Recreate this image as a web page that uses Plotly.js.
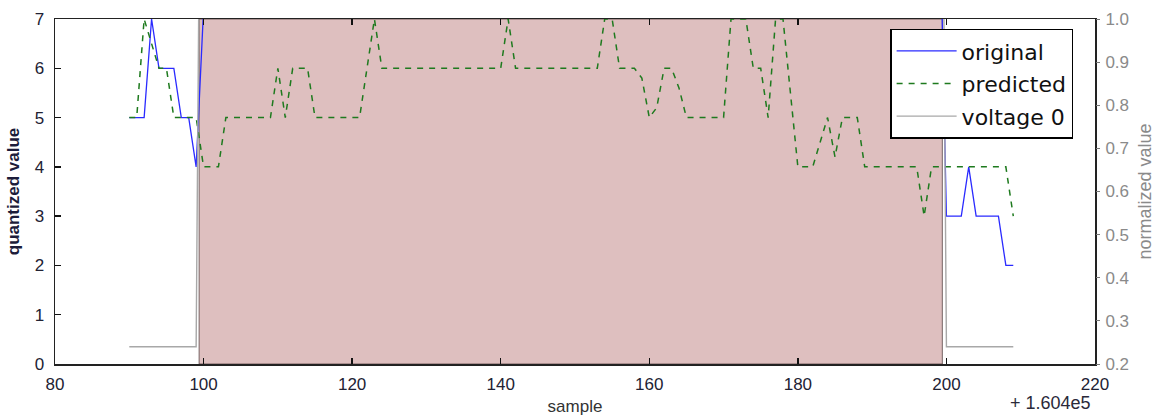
<!DOCTYPE html>
<html>
<head>
<meta charset="utf-8">
<script src="https://cdn.plot.ly/plotly-3.0.1.min.js"></script>
<style>
  html, body { margin: 0; padding: 0; background: #ffffff; }
  #chart { width: 1158px; height: 418px; }
</style>
</head>
<body>
<div id="chart"></div>
<script>
// ---- data (sample index shown with offset +1.604e5) ----
var sampleOffsetText = "+ 1.604e5";

var predictedSamples = [
  90, 91, 92, 93, 94, 95, 96, 97, 98, 99,
  100, 101, 102, 103, 104, 105, 106, 107, 108, 109,
  110, 111, 112, 113, 114, 115, 116, 117, 118, 119,
  120, 121, 122, 123, 124, 125, 126, 127, 128, 129,
  130, 131, 132, 133, 134, 135, 136, 137, 138, 139,
  140, 141, 142, 143, 144, 145, 146, 147, 148, 149,
  150, 151, 152, 153, 154, 155, 156, 157, 158, 159,
  160, 161, 162, 163, 164, 165, 166, 167, 168, 169,
  170, 171, 172, 173, 174, 175, 176, 177, 178, 179,
  180, 181, 182, 183, 184, 185, 186, 187, 188, 189,
  190, 191, 192, 193, 194, 195, 196, 197, 198, 199,
  200, 201, 202, 203, 204, 205, 206, 207, 208, 209
];
var predictedValues = [
  5, 5, 7, 6.5, 6, 6, 5, 5, 5, 5,
  4, 4, 4, 5, 5, 5, 5, 5, 5, 5,
  6, 5, 6, 6, 6, 5, 5, 5, 5, 5,
  5, 5, 6, 7, 6, 6, 6, 6, 6, 6,
  6, 6, 6, 6, 6, 6, 6, 6, 6, 6,
  6, 7, 6, 6, 6, 6, 6, 6, 6, 6,
  6, 6, 6, 6, 7, 7, 6, 6, 6, 5.8,
  5, 5.2, 6, 6, 5.6, 5, 5, 5, 5, 5,
  5, 7, 7, 7, 6, 6, 5, 7, 7, 5.5,
  4, 4, 4, 4.5, 5, 4.2, 5, 5, 5, 4,
  4, 4, 4, 4, 4, 4, 4, 3, 4, 4,
  4, 4, 4, 4, 4, 4, 4, 4, 4, 3
];

// original: inside the active span the values run above the plotted range
var originalSamples = [
  90, 91, 92, 93, 94, 95, 96, 97, 98, 99,
  100, 199,
  200, 201, 202, 203, 204, 205, 206, 207, 208, 209
];
var originalValues = [
  5, 5, 5, 7, 6, 6, 6, 5, 5, 4,
  7.2, 10,
  3, 3, 3, 4, 3, 3, 3, 3, 2, 2
];

var voltageSamples = [
  90, 91, 92, 93, 94, 95, 96, 97, 98, 99,
  100, 199,
  200, 201, 202, 203, 204, 205, 206, 207, 208, 209
];
var voltageValues = [
  0.24, 0.24, 0.24, 0.24, 0.24, 0.24, 0.24, 0.24, 0.24, 0.24,
  2.5, 2.5,
  0.24, 0.24, 0.24, 0.24, 0.24, 0.24, 0.24, 0.24, 0.24, 0.24
];

// shaded span where voltage is active
var activeSpan = [99.4, 199.45];

var xTicks = [80, 100, 120, 140, 160, 180, 200, 220];
var yTicks = [0, 1, 2, 3, 4, 5, 6, 7];
var y2Ticks = [0.2, 0.3, 0.4, 0.5, 0.6, 0.7, 0.8, 0.9, 1.0];
var y2TickText = ["0.2", "0.3", "0.4", "0.5", "0.6", "0.7", "0.8", "0.9", "1.0"];

var FONT = "Liberation Sans, Arial, sans-serif";
var LEGEND_FONT = "DejaVu Sans, Liberation Sans, sans-serif";

var traces = [
  {
    x: originalSamples, y: originalValues, name: "original",
    type: "scatter", mode: "lines", yaxis: "y", legendgroup: "a",
    line: { color: "#2a2aff", width: 1.3 }
  },
  {
    x: predictedSamples, y: predictedValues, name: "predicted",
    type: "scatter", mode: "lines", yaxis: "y", legendgroup: "b",
    line: { color: "#1e7a1e", width: 1.5, dash: "6px,6px" }
  },
  {
    x: voltageSamples, y: voltageValues, name: "voltage 0",
    type: "scatter", mode: "lines", yaxis: "y2", legendgroup: "c",
    line: { color: "#a8a8a8", width: 1.4 }
  }
];

var layout = {
  width: 1158, height: 418,
  margin: { l: 55, r: 63, t: 19, b: 54, pad: 0 },
  paper_bgcolor: "#ffffff", plot_bgcolor: "#ffffff",
  font: { family: FONT, size: 16, color: "#222" },
  showlegend: true,
  legend: {
    x: 0.803, y: 0.972, xanchor: "left", yanchor: "top",
    bgcolor: "#ffffff", bordercolor: "#000000", borderwidth: 1.5,
    font: { family: LEGEND_FONT, size: 22, color: "#111" },
    tracegroupgap: 1, itemwidth: 60
  },
  xaxis: {
    range: [80, 220], tickvals: xTicks, ticktext: xTicks.map(String),
    showgrid: false, zeroline: false,
    showline: true, linecolor: "#222", linewidth: 1.5, mirror: "ticks",
    ticks: "inside", ticklen: 6, tickcolor: "#111", tickwidth: 1.5,
    tickfont: { family: FONT, size: 17, color: "#222233" },
    ticklabelstandoff: 4,
    title: { text: "sample", font: { family: FONT, size: 17, color: "#333" }, standoff: 7 }
  },
  yaxis: {
    range: [0, 7], tickvals: yTicks,
    showgrid: false, zeroline: false,
    showline: true, linecolor: "#222", linewidth: 1.5, mirror: true,
    ticks: "inside", ticklen: 6, tickcolor: "#111", tickwidth: 1.5,
    tickfont: { family: FONT, size: 17, color: "#222233" },
    ticklabelstandoff: 6,
    title: { text: "<b>quantized value</b>", font: { family: FONT, size: 17, color: "#1c1c3a" }, standoff: 10 }
  },
  yaxis2: {
    range: [0.2, 1.0], tickvals: y2Ticks, ticktext: y2TickText,
    overlaying: "y", side: "right",
    showgrid: false, zeroline: false, showline: false,
    ticks: "outside", ticklen: 4, tickcolor: "#777", tickwidth: 1,
    tickfont: { family: FONT, size: 17, color: "#8a8a8a" },
    ticklabelstandoff: 2,
    title: { text: "normalized value", font: { family: FONT, size: 18, color: "#8a8a8a" }, standoff: 10 }
  },
  shapes: [
    {
      type: "rect", xref: "x", yref: "paper",
      x0: activeSpan[0], x1: activeSpan[1], y0: 0, y1: 1,
      fillcolor: "rgba(190,128,128,0.5)",
      line: { color: "rgba(90,70,70,0.8)", width: 1 },
      layer: "below"
    }
  ],
  annotations: [
    {
      xref: "paper", yref: "paper", x: 1.0, y: 0, xanchor: "right", yanchor: "top",
      yshift: -27, xshift: -2,
      text: sampleOffsetText, showarrow: false,
      font: { family: FONT, size: 18, color: "#2a2a3a" }
    }
  ]
};

Plotly.newPlot("chart", traces, layout, { displayModeBar: false, staticPlot: true });
</script>
</body>
</html>
